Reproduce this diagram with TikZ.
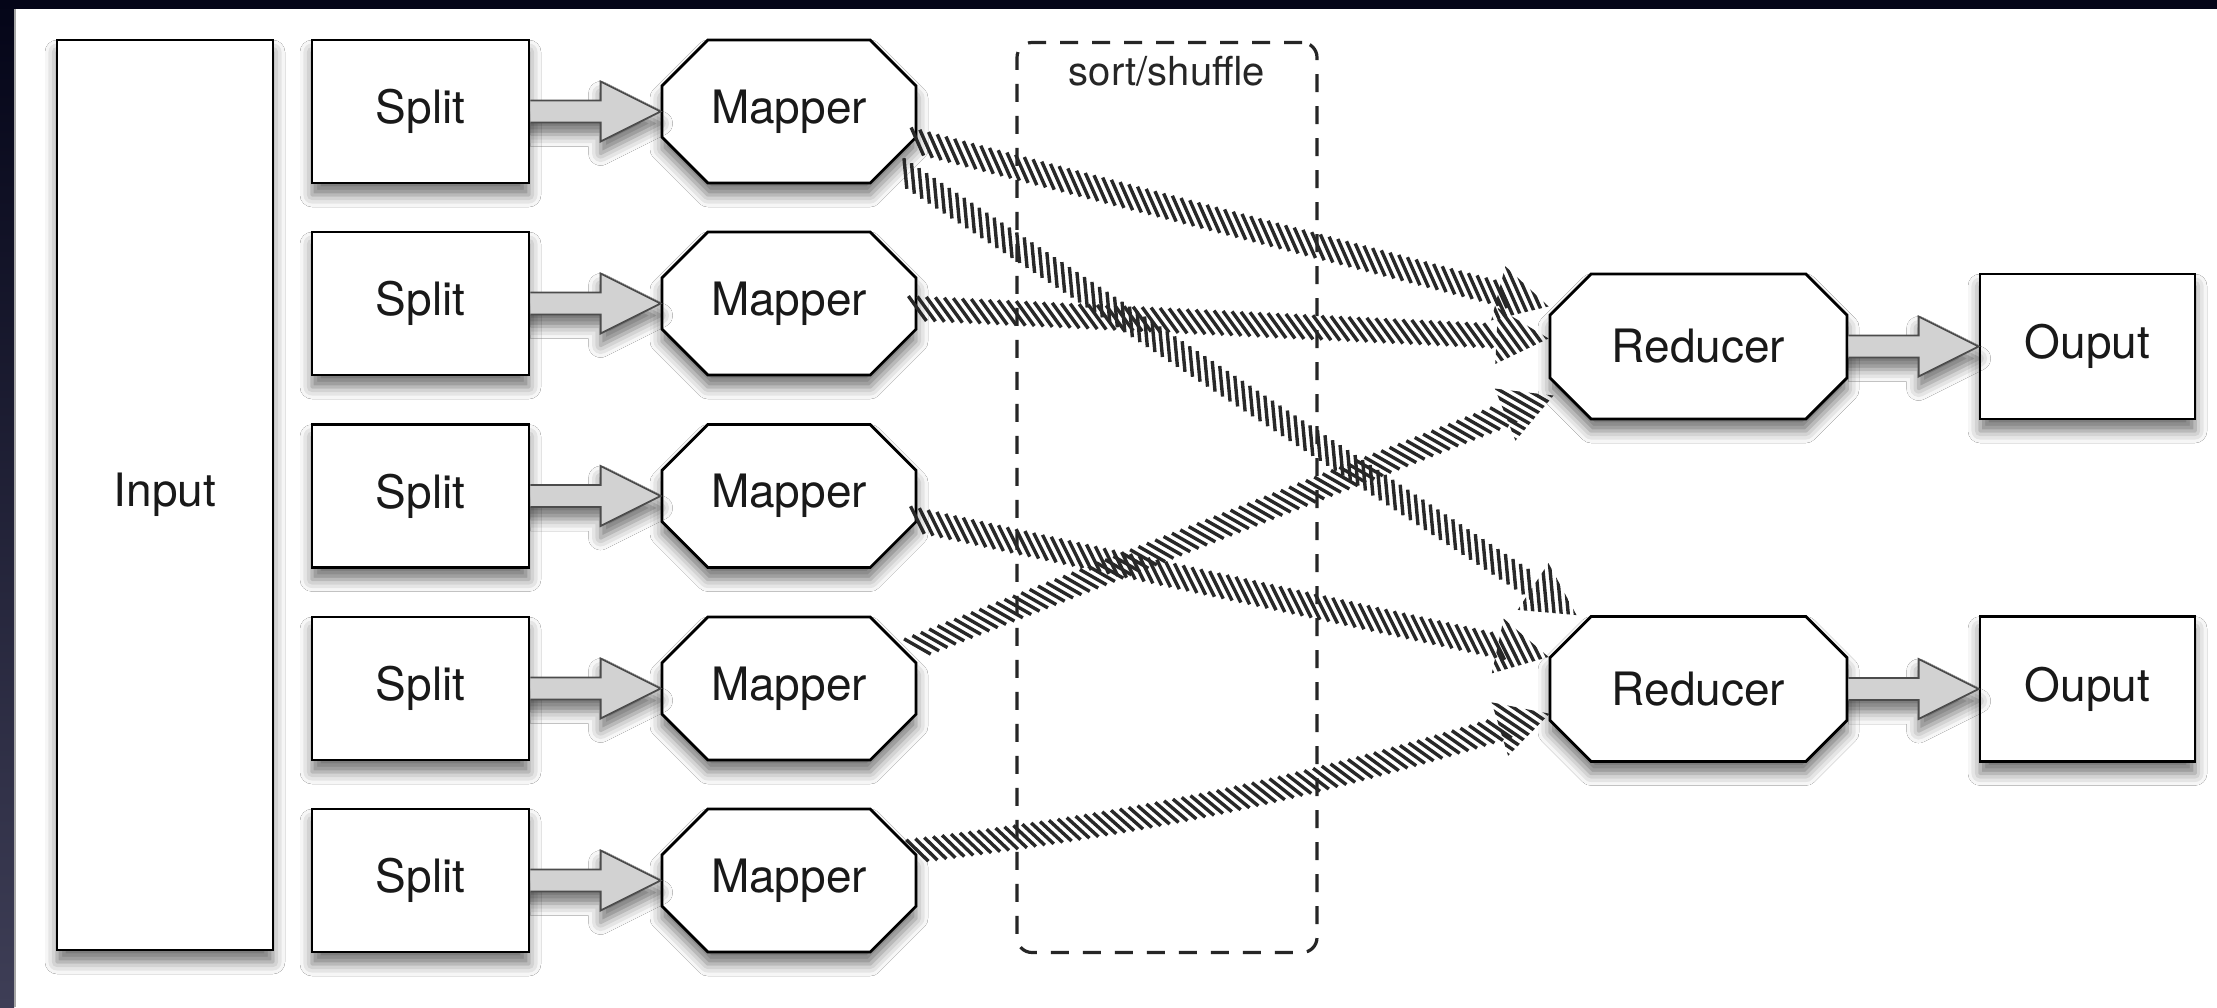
\documentclass[tikz,border=0pt]{standalone}
\usepackage{fontspec}
\setmainfont{TeX Gyre Heros}
\usetikzlibrary{shapes.misc,shadows.blur,decorations.markings,calc}

\definecolor{framedark}{RGB}{4,5,24}
\definecolor{framelow}{RGB}{62,62,86}
\definecolor{hatchink}{RGB}{40,40,40}
\definecolor{arrowfill}{RGB}{210,210,210}

% head of a hatched connector: stripes clipped to a triangle whose tip
% lies 3pt ahead of the mark
\newcommand\hatchhead{%
  \begin{scope}[xshift=3pt]
    \clip (0pt,0pt) -- (-26pt,14pt) -- (-26pt,-14pt) -- cycle;
    \foreach \k in {0,...,13} {
      \draw[hatchstroke] ({-54pt+\k*4.5pt},16pt) -- ++(25.6pt,-32pt);
    }
  \end{scope}}

% hollow grey block arrow between two nodes
\newcommand\blockarrow[2]{%
  \draw[blockarr] ($(#1.east)+(0,-11)$) -- ($(#2.west)+(-60,-11)$)
    -- ($(#2.west)+(-60,-30)$) -- (#2.west) -- ($(#2.west)+(-60,30)$)
    -- ($(#2.west)+(-60,11)$) -- ($(#1.east)+(0,11)$);}

\tikzset{
  softshadow/.style={blur shadow={shadow xshift=0pt,shadow yshift=-6pt,
      shadow blur radius=6pt,shadow opacity=55}},
  box/.style={draw=black, line width=1.4pt, fill=white, inner sep=0pt,
    text=black!90, font=\fontsize{23}{27}\selectfont, softshadow},
  sqbox/.style={box, rectangle},
  octbox/.style={box, chamfered rectangle,
    chamfered rectangle xsep=12pt, chamfered rectangle ysep=12pt},
  blockarr/.style={draw=black!70, line width=0.9pt, fill=arrowfill,
    line join=miter, softshadow},
  hatchstroke/.style={draw=hatchink, line width=1.7pt, line cap=butt},
  hatcharr/.style={decoration={markings,
      mark=between positions 0 and -24pt step 4.5pt with
        {\draw[hatchstroke] (-4.8pt,6pt) -- (4.8pt,-6pt);},
      mark=at position -3pt with {\hatchhead}},
    decorate},
  shufflebox/.style={draw=black!85, line width=1.6pt, dash pattern=on 9pt off 7pt,
    rounded corners=7.5pt, minimum width=150pt, minimum height=455pt, inner sep=0pt},
}

\begin{document}
\begin{tikzpicture}[x=0.5pt,y=-0.5pt]
  \useasboundingbox (0,0) rectangle (2217,1007);

  % page and dark frame
  \fill[white] (0,0) rectangle (2217,1007);
  \fill[framedark] (0,0) rectangle (2217,9);
  \shade[top color=framedark, bottom color=framelow] (0,0) rectangle (14,1007);
  \fill[black!35] (14,9) rectangle (16,1007);

  % shuffle region
  \node[shufflebox] (shuffle) at (1167,497.5) {};
  \node[anchor=base, font=\fontsize{20}{24}\selectfont, text=black!85]
    (shufflelabel) at (1167,85) {sort/shuffle};

  % input
  \node[sqbox, minimum width=108pt, minimum height=455pt] (in) at (165,495) {Input};

  % splits and mappers
  \foreach \i/\y in {1/111.5, 2/303.5, 3/496, 4/688.5, 5/880.5} {
    \node[sqbox, minimum width=108.5pt, minimum height=71.5pt] (s\i) at (420.5,\y) {Split};
    \node[octbox, minimum width=127pt, minimum height=71.5pt] (m\i) at (789,\y) {Mapper};
  }

  % reducers and outputs
  \foreach \i/\y in {1/346.5, 2/689} {
    \node[octbox, minimum width=148.5pt, minimum height=72.5pt] (r\i) at (1698.5,\y) {Reducer};
    \node[sqbox, minimum width=107.5pt, minimum height=72.5pt] (o\i) at (2087.5,\y) {Ouput};
  }

  % split -> mapper and reducer -> output
  \foreach \i in {1,...,5} { \blockarrow{s\i}{m\i} }
  \blockarrow{r1}{o1}
  \blockarrow{r2}{o2}

  % mapper -> reducer transfers
  \path[hatcharr] ($(m1.east)+(0,30)$) -- ($(r1.west)+(0,-40)$);
  \path[hatcharr] ($(m2.east)+(0,5)$) -- ($(r1.west)+(0,-8)$);
  \path[hatcharr] ($(m1.east)+(-12,62)$) -- ($(r2.north)+(-122,0)$);
  \path[hatcharr] ($(m3.east)+(0,24)$) -- ($(r2.west)+(0,-32)$);
  \path[hatcharr] ($(m4.east)+(0,-42)$) -- ($(r1.west)+(5,49)$);
  \path[hatcharr] ($(m5.east)+(0,-30)$) to[bend right=5] ($(r2.west)+(0,25)$);
\end{tikzpicture}
\end{document}
